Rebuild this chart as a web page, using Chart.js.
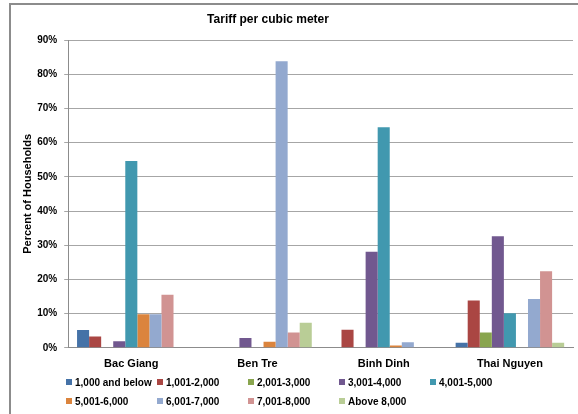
<!DOCTYPE html>
<html>
<head>
<meta charset="utf-8">
<script src="https://cdn.jsdelivr.net/npm/chart.js@4"></script>
<style>
    body { margin: 0; background: #fff; }
    #wrap { position: relative; width: 578px; height: 414px; overflow: hidden; }
    #frame { position: absolute; left: 9px; top: 3px; width: 580px; height: 420px;
             border-left: 2px solid #8c8c8c; border-top: 2px solid #8c8c8c; }
    #chart-title { position: absolute; top: 12px; left: 168px; width: 200px; text-align: center;
                   font: bold 12px "Liberation Sans", sans-serif; color: #000; }
    #legend { position: absolute; left: 66px; top: 376px; width: 470px;
              font: bold 10px "Liberation Sans", sans-serif; color: #000; }
    .item { position: absolute; white-space: nowrap; line-height: 14px; }
    .item span { display: inline-block; width: 6px; height: 6px; margin-right: 3px; vertical-align: 1px; }
</style>
</head>
<body>
<div id="wrap">
    <div id="frame"></div>
    <canvas id="tariffChart" width="578" height="414"></canvas>
    <div id="chart-title">Tariff per cubic meter</div>
    <div id="legend"></div>
</div>
<script>
// provinces on the x axis
const provinces = ['Bac Giang', 'Ben Tre', 'Binh Dinh', 'Thai Nguyen'];
// tariff bands (VND per cubic meter)
const bands = ['1,000 and below', '1,001-2,000', '2,001-3,000', '3,001-4,000', '4,001-5,000',
               '5,001-6,000', '6,001-7,000', '7,001-8,000', 'Above 8,000'];
const bandColors = ['#4572A7', '#AA4643', '#89A54E', '#71588F', '#4198AF',
                    '#DB843D', '#93A9CF', '#D19392', '#B9CD96'];

// percent of households, one array per band, in province order
const band1 = [5.2, 0, 0, 1.5];
const band2 = [3.3, 0, 5.3, 13.8];
const band3 = [0, 0, 0, 4.5];
const band4 = [1.9, 2.9, 28.1, 32.6];
const band5 = [54.6, 0, 64.5, 10.1];
const band6 = [9.8, 1.8, 0.7, 0];
const band7 = [9.8, 83.8, 1.6, 14.3];
const band8 = [15.5, 4.5, 0, 22.4];
const band9 = [0, 7.3, 0, 1.5];
const bandValues = [band1, band2, band3, band4, band5, band6, band7, band8, band9];

const yTicks = [0, 10, 20, 30, 40, 50, 60, 70, 80, 90];

const fontFamily = '"Liberation Sans", sans-serif';

const datasets = bands.map((name, i) => ({
    label: name,
    data: bandValues[i],
    backgroundColor: bandColors[i],
    borderWidth: 0,
    categoryPercentage: 0.86,
    barPercentage: 1.0
}));

const ctx = document.getElementById('tariffChart').getContext('2d');
const chart = new Chart(ctx, {
    type: 'bar',
    data: { labels: provinces, datasets: datasets },
    options: {
        responsive: false,
        animation: false,
        layout: { padding: { top: 40, right: 5, bottom: 33, left: 15 } },
        plugins: {
            legend: { display: false },
            title: { display: false },
            tooltip: { enabled: false }
        },
        scales: {
            x: {
                grid: { display: false, drawTicks: false },
                border: { color: '#8c8c8c', width: 1 },
                ticks: { color: '#000', padding: 10, font: { family: fontFamily, size: 11, weight: 'bold' } }
            },
            y: {
                min: 0,
                max: 90,
                afterBuildTicks: axis => { axis.ticks = yTicks.map(v => ({ value: v })); },
                grid: { color: '#a6a6a6', tickLength: 4 },
                border: { color: '#8c8c8c', width: 1 },
                ticks: {
                    color: '#000',
                    padding: 7,
                    font: { family: fontFamily, size: 10, weight: 'bold' },
                    callback: v => v + '%'
                },
                title: {
                    display: true,
                    text: 'Percent of Households',
                    color: '#000',
                    padding: { top: 6, bottom: -4 },
                    font: { family: fontFamily, size: 11, weight: 'bold' }
                }
            }
        }
    }
});

// legend laid out in fixed columns like the original
const legend = document.getElementById('legend');
chart.data.datasets.forEach((ds, i) => {
    const item = document.createElement('div');
    item.className = 'item';
    item.style.left = (i % 5) * 91 + 'px';
    item.style.top = Math.floor(i / 5) * 19 + 'px';
    item.innerHTML = `<span style="background:${ds.backgroundColor}"></span>${ds.label}`;
    legend.appendChild(item);
});
</script>
</body>
</html>
